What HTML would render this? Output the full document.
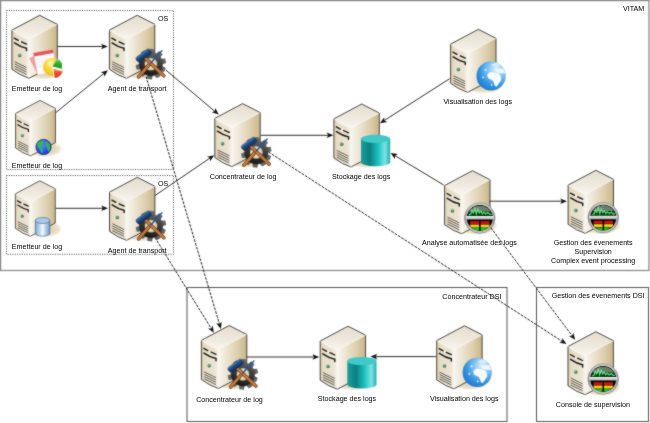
<!DOCTYPE html>
<html><head><meta charset="utf-8"><style>
html,body{margin:0;padding:0;background:#fff;}
svg{display:block;}
text{font-family:"Liberation Sans", sans-serif;fill:#000;}
#wrap{will-change:transform;width:650px;height:423px;}
</style></head><body><div id="wrap">
<svg width="650" height="423" viewBox="0 0 650 423">

<defs>
 <linearGradient id="gTop" x1="0.3" y1="0" x2="0.1" y2="1">
  <stop offset="0" stop-color="#e6dfcf"/><stop offset="0.6" stop-color="#f0ebe0"/><stop offset="1" stop-color="#faf8f3"/>
 </linearGradient>
 <linearGradient id="gFront" x1="0" y1="0" x2="1" y2="0">
  <stop offset="0" stop-color="#d9cba8"/><stop offset="0.18" stop-color="#e6dcc4"/><stop offset="0.75" stop-color="#ebe3d0"/><stop offset="1" stop-color="#f6f2ea"/>
 </linearGradient>
 <linearGradient id="gSide" x1="0" y1="0" x2="1" y2="0">
  <stop offset="0" stop-color="#f8f5ef"/><stop offset="0.3" stop-color="#ece4d2"/><stop offset="0.7" stop-color="#dccdaa"/><stop offset="1" stop-color="#c8b488"/>
 </linearGradient>
 <radialGradient id="gShadow" cx="0.5" cy="0.5" r="0.5">
  <stop offset="0" stop-color="#dccfac"/><stop offset="0.6" stop-color="#e4d9bd"/><stop offset="0.85" stop-color="#eee7d6"/><stop offset="1" stop-color="#ffffff" stop-opacity="0"/>
 </radialGradient>
 <radialGradient id="gLed" cx="0.4" cy="0.4" r="0.6">
  <stop offset="0" stop-color="#7fe0b0"/><stop offset="1" stop-color="#1a6a50"/>
 </radialGradient>
 <g id="server">
  <ellipse cx="5" cy="55" rx="21" ry="9.5" fill="url(#gShadow)"/>
  <path d="M-27.8,14.8 L0,0 L17.6,9 L-10.6,24 Q-19.2,21.6 -27.8,14.8 Z" fill="url(#gTop)"/>
  <path d="M-27.8,14.8 Q-19.2,21.6 -10.6,24 L-10.6,63 Q-19.2,60.5 -27.8,54 Z" fill="url(#gFront)"/>
  <path d="M-10.6,24 L17.6,9 L17.6,48 L-10.6,63 Z" fill="url(#gSide)"/>
  <path d="M-25.4,22.8 L-21.4,25.1 M-18.2,26.5 L-13.2,28.8" stroke="#1e1e1e" stroke-width="1.35" fill="none" stroke-linecap="round"/>
  <path d="M-20.9,25.6 L-19.8,24.9 L-18.7,26 L-19.8,26.6 Z" fill="#fdfcf8"/>
  <path d="M-25.2,27.6 Q-19,31.9 -13.2,33 L-13.2,35.2" stroke="#1e1e1e" stroke-width="1.45" fill="none" stroke-linecap="round"/>
  <circle cx="-20" cy="40.2" r="1.5" fill="url(#gLed)" stroke="#3a5a50" stroke-width="0.4"/>
  <path d="M-25,46.4 L-13.2,52.2 M-25,48.7 L-13.2,54.5 M-25,51 L-13.2,56.8 M-25,53.3 L-13.2,59.1" stroke="#262626" stroke-width="0.7" fill="none"/>
  <path d="M-27.8,14.8 L0,0 L17.6,9 L17.6,48 L-10.6,63 Q-19.2,60.5 -27.8,54 Z" fill="none" stroke="#383838" stroke-width="0.9" stroke-linejoin="round"/>
  <path d="M-27.8,14.8 Q-19.2,21.6 -10.6,24 L17.6,9 M-10.6,24 L-10.6,63" fill="none" stroke="#fbf9f4" stroke-width="0.6"/>
 </g>
</defs>

<defs>
 <linearGradient id="gTeal" x1="0" y1="0" x2="1" y2="0">
  <stop offset="0" stop-color="#1aa0a0"/><stop offset="0.3" stop-color="#0d7f80"/><stop offset="0.6" stop-color="#1ec4c4"/><stop offset="0.82" stop-color="#7fe2e2"/><stop offset="1" stop-color="#22b0b0"/>
 </linearGradient>
 <linearGradient id="gGear" gradientUnits="userSpaceOnUse" x1="6" y1="-15" x2="-4" y2="15">
  <stop offset="0" stop-color="#727272"/><stop offset="0.4" stop-color="#3e3e3e"/><stop offset="1" stop-color="#111111"/>
 </linearGradient>
 <radialGradient id="gHole" cx="0.5" cy="0.5" r="0.5">
  <stop offset="0" stop-color="#efe6cf"/><stop offset="0.75" stop-color="#e2d6b8"/><stop offset="1" stop-color="#b7aa88"/>
 </radialGradient>
 <linearGradient id="gHammer" x1="0" y1="0" x2="0" y2="1">
  <stop offset="0" stop-color="#6a94c8"/><stop offset="0.3" stop-color="#24548e"/><stop offset="1" stop-color="#0e2e58"/>
 </linearGradient>
 <linearGradient id="gRim" x1="0" y1="0" x2="0" y2="1">
  <stop offset="0" stop-color="#d4d4d4"/><stop offset="0.5" stop-color="#9a9a9a"/><stop offset="1" stop-color="#c8c8c8"/>
 </linearGradient>
 <linearGradient id="gBar" x1="0" y1="0" x2="0" y2="1">
  <stop offset="0" stop-color="#f4f4f4"/><stop offset="1" stop-color="#a8a8a8"/>
 </linearGradient>
 <clipPath id="cGauge"><circle r="12.6"/></clipPath>
 <clipPath id="cGlobe"><circle r="14.1"/></clipPath>
 <radialGradient id="gGlobe" cx="0.68" cy="0.28" r="0.8">
  <stop offset="0" stop-color="#e2f3fe"/><stop offset="0.35" stop-color="#86c6f4"/><stop offset="0.7" stop-color="#3594e0"/><stop offset="1" stop-color="#1f76cc"/>
 </radialGradient>
 <radialGradient id="gSmallGlobe" cx="0.4" cy="0.35" r="0.7">
  <stop offset="0" stop-color="#6a84ff"/><stop offset="1" stop-color="#1a2ee0"/>
 </radialGradient>
 <radialGradient id="gPie" cx="0.55" cy="0.3" r="0.75">
  <stop offset="0" stop-color="#fff8c8"/><stop offset="0.45" stop-color="#fada3a"/><stop offset="0.85" stop-color="#f4c21c"/><stop offset="1" stop-color="#e8a018"/>
 </radialGradient>
 <linearGradient id="gPieG" x1="0" y1="0" x2="0" y2="1">
  <stop offset="0" stop-color="#8ae27a"/><stop offset="0.5" stop-color="#2cb02c"/><stop offset="1" stop-color="#1a961a"/>
 </linearGradient>
 <linearGradient id="gPieR" x1="0" y1="0" x2="0" y2="1">
  <stop offset="0" stop-color="#ffa088"/><stop offset="0.45" stop-color="#f44a26"/><stop offset="1" stop-color="#e03214"/>
 </linearGradient>
 <linearGradient id="gBlueCyl" x1="0" y1="0" x2="1" y2="0">
  <stop offset="0" stop-color="#7aa6d6"/><stop offset="0.5" stop-color="#f4f8fd"/><stop offset="1" stop-color="#6a98c8"/>
 </linearGradient>
</defs>

<filter id="fblur" x="0" y="0" width="650" height="423" filterUnits="userSpaceOnUse" color-interpolation-filters="sRGB"><feConvolveMatrix order="3" kernelMatrix="1 2 1 2 16 2 1 2 1" divisor="28" edgeMode="duplicate" preserveAlpha="true"/></filter>
<filter id="ftext" x="0" y="0" width="650" height="423" filterUnits="userSpaceOnUse" color-interpolation-filters="sRGB"><feConvolveMatrix order="3" kernelMatrix="1 2 1 2 36 2 1 2 1" divisor="48" edgeMode="none" preserveAlpha="false"/></filter>
<g filter="url(#fblur)"><rect width="650" height="423" fill="#fff"/>
<rect x="0.6" y="0.6" width="648.3" height="269.9" fill="none" stroke="#8a8a8a" stroke-width="1.25"/>
<rect x="6.5" y="10.5" width="167" height="159" fill="none" stroke="#444" stroke-width="1" stroke-dasharray="1 1.36"/>
<rect x="6.5" y="175.5" width="167" height="78.8" fill="none" stroke="#444" stroke-width="1" stroke-dasharray="1 1.36"/>
<rect x="187" y="287.5" width="320" height="134" fill="none" stroke="#555" stroke-width="1"/>
<rect x="536.5" y="287.5" width="112" height="134" fill="none" stroke="#555" stroke-width="1"/>
<use href="#server" transform="translate(39.7,15.3) scale(1.0)"/>
<use href="#server" transform="translate(137.2,15.3) scale(1.0)"/>
<use href="#server" transform="translate(40.0,100.4) scale(0.88)"/>
<use href="#server" transform="translate(39.8,180.8) scale(0.88)"/>
<use href="#server" transform="translate(137.3,177.3) scale(1.0)"/>
<use href="#server" transform="translate(242.6,103.6) scale(1.0)"/>
<use href="#server" transform="translate(361.7,104.0) scale(1.0)"/>
<use href="#server" transform="translate(478.4,29.3) scale(1.0)"/>
<use href="#server" transform="translate(472.4,170.7) scale(1.0)"/>
<use href="#server" transform="translate(595.9,170.3) scale(1.0)"/>
<use href="#server" transform="translate(229.2,325.5) scale(1.0)"/>
<use href="#server" transform="translate(348.0,326.2) scale(1.0)"/>
<use href="#server" transform="translate(464.5,325.8) scale(1.0)"/>
<use href="#server" transform="translate(595.8,331.7) scale(1.0)"/>
<g transform="translate(39.7,15.3)">
 <path d="M-10.5,43.3 L-4.5,39.8 L2.5,57.5 L-1.7,59.6 Z" fill="#f29e9e"/>
 <path d="M-6.3,37.7 L13.3,34.1 L17.3,56.2 L-2,59.7 Z" fill="#fbfbfb" stroke="#e6b4b4" stroke-width="0.4"/>
 <path d="M-6.3,37.7 L13.3,34.1 L13.9,37.6 L-5.7,41.2 Z" fill="#e25858"/>
 <g stroke="#d8d8d8" stroke-width="0.4"><line x1="-3.5" y1="44.5" x2="8" y2="42.4"/><line x1="-3.1" y1="47" x2="8" y2="45"/><line x1="-2.7" y1="49.5" x2="6" y2="47.9"/><line x1="-2.3" y1="52" x2="5" y2="50.7"/></g>
 <path d="M13,52 L17.37,43.79 A9.3,9.3 0 0 1 13.65,61.28 Z" fill="#fafafa"/>
 <path d="M12.5,51.5 L13.44,60.45 A9,9 0 1 1 17.00,43.71 Z" fill="url(#gPie)"/>
 <path d="M12.9,51.2 L17.60,43.06 A9.4,9.4 0 0 1 22.02,53.47 Z" fill="url(#gPieG)"/>
 <path d="M13.7,53.3 L22.83,56.27 A9.6,9.6 0 0 1 15.04,62.81 Z" fill="url(#gPieR)"/>
</g>
<g transform="translate(43.5,147.0)">
 <circle r="7.7" fill="url(#gSmallGlobe)" stroke="#1a2050" stroke-width="0.6"/>
 <path d="M-6.5,-3 Q-4,-7 0,-6.5 Q1,-5 -1,-3 Q-3,-1 -2,1 Q0,2 -0.5,4 Q-1.5,6 -1,7 Q-3,5 -3.5,2 Q-6,0 -6.5,-3 Z" fill="#22c24a"/>
 <path d="M2,-6 Q5,-5 6.5,-2 Q7,2 5.5,5 Q4,3 3.5,1 Q2,-2 2,-6 Z" fill="#22c24a"/>
</g>
<g>
 <path d="M35.3,220.5 L35.3,233.20000000000002 A7.3,3 0 0 0 49.9,233.20000000000002 L49.9,220.5 Z" fill="url(#gBlueCyl)" stroke="#3a5f88" stroke-width="0.6"/>
 <ellipse cx="42.599999999999994" cy="220.5" rx="7.3" ry="3" fill="#a9c9ea" stroke="#3a5f88" stroke-width="0.6"/>
</g>
<g transform="translate(150.89999999999998,64.1)">
 <g fill="url(#gGear)"><path d="M-2.9,-10.8 L-2.3,-15.2 L2.3,-15.2 L2.9,-10.8 Z" transform="rotate(5)"/><path d="M-2.9,-10.8 L-2.3,-15.2 L2.3,-15.2 L2.9,-10.8 Z" transform="rotate(41)"/><path d="M-2.9,-10.8 L-2.3,-15.2 L2.3,-15.2 L2.9,-10.8 Z" transform="rotate(77)"/><path d="M-2.9,-10.8 L-2.3,-15.2 L2.3,-15.2 L2.9,-10.8 Z" transform="rotate(113)"/><path d="M-2.9,-10.8 L-2.3,-15.2 L2.3,-15.2 L2.9,-10.8 Z" transform="rotate(149)"/><path d="M-2.9,-10.8 L-2.3,-15.2 L2.3,-15.2 L2.9,-10.8 Z" transform="rotate(185)"/><path d="M-2.9,-10.8 L-2.3,-15.2 L2.3,-15.2 L2.9,-10.8 Z" transform="rotate(221)"/><path d="M-2.9,-10.8 L-2.3,-15.2 L2.3,-15.2 L2.9,-10.8 Z" transform="rotate(257)"/><path d="M-2.9,-10.8 L-2.3,-15.2 L2.3,-15.2 L2.9,-10.8 Z" transform="rotate(293)"/><path d="M-2.9,-10.8 L-2.3,-15.2 L2.3,-15.2 L2.9,-10.8 Z" transform="rotate(329)"/><circle r="11.9"/></g>
 <circle r="6.4" fill="url(#gHole)"/>
 <line x1="-0.3" y1="-1.1" x2="-12.3" y2="12.7" stroke="#6e3a14" stroke-width="3.6" stroke-linecap="round"/>
 <line x1="-0.3" y1="-1.1" x2="-12.3" y2="12.7" stroke="#c07a40" stroke-width="2.4" stroke-linecap="round"/>
 <line x1="-5.3" y1="-5.7" x2="12.9" y2="11.7" stroke="#6e3a14" stroke-width="3.6" stroke-linecap="round"/>
 <line x1="-5.3" y1="-5.7" x2="12.9" y2="11.7" stroke="#c07a40" stroke-width="2.4" stroke-linecap="round"/>
 <rect x="-8.3" y="-3" width="16.6" height="6" rx="1.8" fill="url(#gHammer)" stroke="#0c2a50" stroke-width="0.4" transform="translate(-7.3,-8.6) rotate(-37)"/>
 <line x1="11" y1="-13.3" x2="-0.3" y2="-1.1" stroke="#1f5a9a" stroke-width="1.4" stroke-linecap="round"/>
</g>
<g transform="translate(151.0,226.10000000000002)">
 <g fill="url(#gGear)"><path d="M-2.9,-10.8 L-2.3,-15.2 L2.3,-15.2 L2.9,-10.8 Z" transform="rotate(5)"/><path d="M-2.9,-10.8 L-2.3,-15.2 L2.3,-15.2 L2.9,-10.8 Z" transform="rotate(41)"/><path d="M-2.9,-10.8 L-2.3,-15.2 L2.3,-15.2 L2.9,-10.8 Z" transform="rotate(77)"/><path d="M-2.9,-10.8 L-2.3,-15.2 L2.3,-15.2 L2.9,-10.8 Z" transform="rotate(113)"/><path d="M-2.9,-10.8 L-2.3,-15.2 L2.3,-15.2 L2.9,-10.8 Z" transform="rotate(149)"/><path d="M-2.9,-10.8 L-2.3,-15.2 L2.3,-15.2 L2.9,-10.8 Z" transform="rotate(185)"/><path d="M-2.9,-10.8 L-2.3,-15.2 L2.3,-15.2 L2.9,-10.8 Z" transform="rotate(221)"/><path d="M-2.9,-10.8 L-2.3,-15.2 L2.3,-15.2 L2.9,-10.8 Z" transform="rotate(257)"/><path d="M-2.9,-10.8 L-2.3,-15.2 L2.3,-15.2 L2.9,-10.8 Z" transform="rotate(293)"/><path d="M-2.9,-10.8 L-2.3,-15.2 L2.3,-15.2 L2.9,-10.8 Z" transform="rotate(329)"/><circle r="11.9"/></g>
 <circle r="6.4" fill="url(#gHole)"/>
 <line x1="-0.3" y1="-1.1" x2="-12.3" y2="12.7" stroke="#6e3a14" stroke-width="3.6" stroke-linecap="round"/>
 <line x1="-0.3" y1="-1.1" x2="-12.3" y2="12.7" stroke="#c07a40" stroke-width="2.4" stroke-linecap="round"/>
 <line x1="-5.3" y1="-5.7" x2="12.9" y2="11.7" stroke="#6e3a14" stroke-width="3.6" stroke-linecap="round"/>
 <line x1="-5.3" y1="-5.7" x2="12.9" y2="11.7" stroke="#c07a40" stroke-width="2.4" stroke-linecap="round"/>
 <rect x="-8.3" y="-3" width="16.6" height="6" rx="1.8" fill="url(#gHammer)" stroke="#0c2a50" stroke-width="0.4" transform="translate(-7.3,-8.6) rotate(-37)"/>
 <line x1="11" y1="-13.3" x2="-0.3" y2="-1.1" stroke="#1f5a9a" stroke-width="1.4" stroke-linecap="round"/>
</g>
<g transform="translate(256.3,152.39999999999998)">
 <g fill="url(#gGear)"><path d="M-2.9,-10.8 L-2.3,-15.2 L2.3,-15.2 L2.9,-10.8 Z" transform="rotate(5)"/><path d="M-2.9,-10.8 L-2.3,-15.2 L2.3,-15.2 L2.9,-10.8 Z" transform="rotate(41)"/><path d="M-2.9,-10.8 L-2.3,-15.2 L2.3,-15.2 L2.9,-10.8 Z" transform="rotate(77)"/><path d="M-2.9,-10.8 L-2.3,-15.2 L2.3,-15.2 L2.9,-10.8 Z" transform="rotate(113)"/><path d="M-2.9,-10.8 L-2.3,-15.2 L2.3,-15.2 L2.9,-10.8 Z" transform="rotate(149)"/><path d="M-2.9,-10.8 L-2.3,-15.2 L2.3,-15.2 L2.9,-10.8 Z" transform="rotate(185)"/><path d="M-2.9,-10.8 L-2.3,-15.2 L2.3,-15.2 L2.9,-10.8 Z" transform="rotate(221)"/><path d="M-2.9,-10.8 L-2.3,-15.2 L2.3,-15.2 L2.9,-10.8 Z" transform="rotate(257)"/><path d="M-2.9,-10.8 L-2.3,-15.2 L2.3,-15.2 L2.9,-10.8 Z" transform="rotate(293)"/><path d="M-2.9,-10.8 L-2.3,-15.2 L2.3,-15.2 L2.9,-10.8 Z" transform="rotate(329)"/><circle r="11.9"/></g>
 <circle r="6.4" fill="url(#gHole)"/>
 <line x1="-0.3" y1="-1.1" x2="-12.3" y2="12.7" stroke="#6e3a14" stroke-width="3.6" stroke-linecap="round"/>
 <line x1="-0.3" y1="-1.1" x2="-12.3" y2="12.7" stroke="#c07a40" stroke-width="2.4" stroke-linecap="round"/>
 <line x1="-5.3" y1="-5.7" x2="12.9" y2="11.7" stroke="#6e3a14" stroke-width="3.6" stroke-linecap="round"/>
 <line x1="-5.3" y1="-5.7" x2="12.9" y2="11.7" stroke="#c07a40" stroke-width="2.4" stroke-linecap="round"/>
 <rect x="-8.3" y="-3" width="16.6" height="6" rx="1.8" fill="url(#gHammer)" stroke="#0c2a50" stroke-width="0.4" transform="translate(-7.3,-8.6) rotate(-37)"/>
 <line x1="11" y1="-13.3" x2="-0.3" y2="-1.1" stroke="#1f5a9a" stroke-width="1.4" stroke-linecap="round"/>
</g>
<g transform="translate(242.89999999999998,374.3)">
 <g fill="url(#gGear)"><path d="M-2.9,-10.8 L-2.3,-15.2 L2.3,-15.2 L2.9,-10.8 Z" transform="rotate(5)"/><path d="M-2.9,-10.8 L-2.3,-15.2 L2.3,-15.2 L2.9,-10.8 Z" transform="rotate(41)"/><path d="M-2.9,-10.8 L-2.3,-15.2 L2.3,-15.2 L2.9,-10.8 Z" transform="rotate(77)"/><path d="M-2.9,-10.8 L-2.3,-15.2 L2.3,-15.2 L2.9,-10.8 Z" transform="rotate(113)"/><path d="M-2.9,-10.8 L-2.3,-15.2 L2.3,-15.2 L2.9,-10.8 Z" transform="rotate(149)"/><path d="M-2.9,-10.8 L-2.3,-15.2 L2.3,-15.2 L2.9,-10.8 Z" transform="rotate(185)"/><path d="M-2.9,-10.8 L-2.3,-15.2 L2.3,-15.2 L2.9,-10.8 Z" transform="rotate(221)"/><path d="M-2.9,-10.8 L-2.3,-15.2 L2.3,-15.2 L2.9,-10.8 Z" transform="rotate(257)"/><path d="M-2.9,-10.8 L-2.3,-15.2 L2.3,-15.2 L2.9,-10.8 Z" transform="rotate(293)"/><path d="M-2.9,-10.8 L-2.3,-15.2 L2.3,-15.2 L2.9,-10.8 Z" transform="rotate(329)"/><circle r="11.9"/></g>
 <circle r="6.4" fill="url(#gHole)"/>
 <line x1="-0.3" y1="-1.1" x2="-12.3" y2="12.7" stroke="#6e3a14" stroke-width="3.6" stroke-linecap="round"/>
 <line x1="-0.3" y1="-1.1" x2="-12.3" y2="12.7" stroke="#c07a40" stroke-width="2.4" stroke-linecap="round"/>
 <line x1="-5.3" y1="-5.7" x2="12.9" y2="11.7" stroke="#6e3a14" stroke-width="3.6" stroke-linecap="round"/>
 <line x1="-5.3" y1="-5.7" x2="12.9" y2="11.7" stroke="#c07a40" stroke-width="2.4" stroke-linecap="round"/>
 <rect x="-8.3" y="-3" width="16.6" height="6" rx="1.8" fill="url(#gHammer)" stroke="#0c2a50" stroke-width="0.4" transform="translate(-7.3,-8.6) rotate(-37)"/>
 <line x1="11" y1="-13.3" x2="-0.3" y2="-1.1" stroke="#1f5a9a" stroke-width="1.4" stroke-linecap="round"/>
</g>
<g>
 <path d="M361.0,138.8 L361.0,162.2 A14.6,4.1 0 0 0 390.2,162.2 L390.2,138.8 Z" fill="url(#gTeal)"/>
 <ellipse cx="375.6" cy="138.8" rx="14.6" ry="4.1" fill="#41c8c8"/>
</g>
<g>
 <path d="M347.3,361.0 L347.3,384.4 A14.6,4.1 0 0 0 376.5,384.4 L376.5,361.0 Z" fill="url(#gTeal)"/>
 <ellipse cx="361.90000000000003" cy="361.0" rx="14.6" ry="4.1" fill="#41c8c8"/>
</g>
<g transform="translate(491.09999999999997,75.9)">
 <circle r="14.6" fill="url(#gGlobe)"/>
 <g clip-path="url(#cGlobe)"><g transform="translate(1.5,0.5) scale(1.18)">
 <path d="M-4.5,-1.5 Q-3,-4.2 0,-3.6 Q3,-3.2 5.5,-2 Q7.5,0 7.2,3 Q5.5,5.5 3.5,8.5 Q2,9 1.2,6 Q0.5,3 -2,2.5 Q-4.5,1.5 -4.5,-1.5 Z" fill="#f7fafd"/>
 <path d="M1.5,-5 Q5,-7.5 9.5,-6.5 Q12.8,-4.5 13.4,-1.5 Q10,-3 7,-2.6 Q3.5,-2.8 1.5,-5 Z" fill="#eef6fd"/>
 <path d="M-1,-10 Q3,-12.5 8,-11 Q10,-9.5 9,-8.5 Q5,-9 2,-8.2 Q0,-8.5 -1,-10 Z" fill="#d8ecfa"/>
 </g></g>
 <circle cx="-5.5" cy="-6" r="0.9" fill="#ffffff"/>
 <circle cx="-8" cy="1.5" r="0.8" fill="#ffffff"/>
 <circle cx="0.5" cy="9" r="0.8" fill="#ffffff"/>
</g>
<g transform="translate(477.2,372.40000000000003)">
 <circle r="14.6" fill="url(#gGlobe)"/>
 <g clip-path="url(#cGlobe)"><g transform="translate(1.5,0.5) scale(1.18)">
 <path d="M-4.5,-1.5 Q-3,-4.2 0,-3.6 Q3,-3.2 5.5,-2 Q7.5,0 7.2,3 Q5.5,5.5 3.5,8.5 Q2,9 1.2,6 Q0.5,3 -2,2.5 Q-4.5,1.5 -4.5,-1.5 Z" fill="#f7fafd"/>
 <path d="M1.5,-5 Q5,-7.5 9.5,-6.5 Q12.8,-4.5 13.4,-1.5 Q10,-3 7,-2.6 Q3.5,-2.8 1.5,-5 Z" fill="#eef6fd"/>
 <path d="M-1,-10 Q3,-12.5 8,-11 Q10,-9.5 9,-8.5 Q5,-9 2,-8.2 Q0,-8.5 -1,-10 Z" fill="#d8ecfa"/>
 </g></g>
 <circle cx="-5.5" cy="-6" r="0.9" fill="#ffffff"/>
 <circle cx="-8" cy="1.5" r="0.8" fill="#ffffff"/>
 <circle cx="0.5" cy="9" r="0.8" fill="#ffffff"/>
</g>
<g transform="translate(479.79999999999995,218.0)">
 <circle r="15.3" fill="url(#gRim)" stroke="#666" stroke-width="0.5"/>
 <circle r="12.9" fill="#050505"/>
 <g clip-path="url(#cGauge)">
  <rect x="-13" y="-13" width="26" height="11.5" fill="#020602"/>
  <g stroke="#1c7a2a" stroke-width="0.5"><line x1="-13" y1="-11.0" x2="13" y2="-11.0"/><line x1="-13" y1="-9.0" x2="13" y2="-9.0"/><line x1="-13" y1="-7.0" x2="13" y2="-7.0"/><line x1="-13" y1="-5.0" x2="13" y2="-5.0"/><line x1="-13" y1="-3.0" x2="13" y2="-3.0"/><line x1="-10.0" y1="-13" x2="-10.0" y2="-1.5"/><line x1="-8.0" y1="-13" x2="-8.0" y2="-1.5"/><line x1="-6.0" y1="-13" x2="-6.0" y2="-1.5"/><line x1="-4.0" y1="-13" x2="-4.0" y2="-1.5"/><line x1="-2.0" y1="-13" x2="-2.0" y2="-1.5"/><line x1="0.0" y1="-13" x2="0.0" y2="-1.5"/><line x1="2.0" y1="-13" x2="2.0" y2="-1.5"/><line x1="4.0" y1="-13" x2="4.0" y2="-1.5"/><line x1="6.0" y1="-13" x2="6.0" y2="-1.5"/><line x1="8.0" y1="-13" x2="8.0" y2="-1.5"/><line x1="10.0" y1="-13" x2="10.0" y2="-1.5"/></g>
  <path d="M-11,-3 L-9,-4 L-8,-8 L-6.5,-5 L-5,-10 L-3.5,-4 L-2,-9 L-0.5,-5 L1,-7 L2.5,-4 L4,-6 L6,-4 L8,-5.5 L10,-3.5 L12,-4" stroke="#55f07a" stroke-width="1.1" fill="none"/>
  <path d="M-10.8,-6.5 A12.6,12.6 0 0 1 10.8,-6.5 Z" fill="#c4ccc4" opacity="0.5"/>
  <rect x="-9.6" y="3.2" width="8.9" height="3" fill="#d41010"/>
  <rect x="0.8" y="3.2" width="8.9" height="3" fill="#d41010"/>
  <rect x="-9.6" y="6.6" width="8.9" height="3" fill="#e8d414"/>
  <rect x="0.8" y="6.6" width="8.9" height="3" fill="#e8d414"/>
  <rect x="-9.6" y="10" width="8.9" height="4" fill="#1ec21e"/>
  <rect x="0.8" y="10" width="8.9" height="4" fill="#1ec21e"/>
 </g>
 <rect x="-14.2" y="-1.9" width="28.4" height="3.5" rx="1" fill="url(#gBar)"/>
</g>
<g transform="translate(603.3,217.60000000000002)">
 <circle r="15.3" fill="url(#gRim)" stroke="#666" stroke-width="0.5"/>
 <circle r="12.9" fill="#050505"/>
 <g clip-path="url(#cGauge)">
  <rect x="-13" y="-13" width="26" height="11.5" fill="#020602"/>
  <g stroke="#1c7a2a" stroke-width="0.5"><line x1="-13" y1="-11.0" x2="13" y2="-11.0"/><line x1="-13" y1="-9.0" x2="13" y2="-9.0"/><line x1="-13" y1="-7.0" x2="13" y2="-7.0"/><line x1="-13" y1="-5.0" x2="13" y2="-5.0"/><line x1="-13" y1="-3.0" x2="13" y2="-3.0"/><line x1="-10.0" y1="-13" x2="-10.0" y2="-1.5"/><line x1="-8.0" y1="-13" x2="-8.0" y2="-1.5"/><line x1="-6.0" y1="-13" x2="-6.0" y2="-1.5"/><line x1="-4.0" y1="-13" x2="-4.0" y2="-1.5"/><line x1="-2.0" y1="-13" x2="-2.0" y2="-1.5"/><line x1="0.0" y1="-13" x2="0.0" y2="-1.5"/><line x1="2.0" y1="-13" x2="2.0" y2="-1.5"/><line x1="4.0" y1="-13" x2="4.0" y2="-1.5"/><line x1="6.0" y1="-13" x2="6.0" y2="-1.5"/><line x1="8.0" y1="-13" x2="8.0" y2="-1.5"/><line x1="10.0" y1="-13" x2="10.0" y2="-1.5"/></g>
  <path d="M-11,-3 L-9,-4 L-8,-8 L-6.5,-5 L-5,-10 L-3.5,-4 L-2,-9 L-0.5,-5 L1,-7 L2.5,-4 L4,-6 L6,-4 L8,-5.5 L10,-3.5 L12,-4" stroke="#55f07a" stroke-width="1.1" fill="none"/>
  <path d="M-10.8,-6.5 A12.6,12.6 0 0 1 10.8,-6.5 Z" fill="#c4ccc4" opacity="0.5"/>
  <rect x="-9.6" y="3.2" width="8.9" height="3" fill="#d41010"/>
  <rect x="0.8" y="3.2" width="8.9" height="3" fill="#d41010"/>
  <rect x="-9.6" y="6.6" width="8.9" height="3" fill="#e8d414"/>
  <rect x="0.8" y="6.6" width="8.9" height="3" fill="#e8d414"/>
  <rect x="-9.6" y="10" width="8.9" height="4" fill="#1ec21e"/>
  <rect x="0.8" y="10" width="8.9" height="4" fill="#1ec21e"/>
 </g>
 <rect x="-14.2" y="-1.9" width="28.4" height="3.5" rx="1" fill="url(#gBar)"/>
</g>
<g transform="translate(603.1999999999999,379.0)">
 <circle r="15.3" fill="url(#gRim)" stroke="#666" stroke-width="0.5"/>
 <circle r="12.9" fill="#050505"/>
 <g clip-path="url(#cGauge)">
  <rect x="-13" y="-13" width="26" height="11.5" fill="#020602"/>
  <g stroke="#1c7a2a" stroke-width="0.5"><line x1="-13" y1="-11.0" x2="13" y2="-11.0"/><line x1="-13" y1="-9.0" x2="13" y2="-9.0"/><line x1="-13" y1="-7.0" x2="13" y2="-7.0"/><line x1="-13" y1="-5.0" x2="13" y2="-5.0"/><line x1="-13" y1="-3.0" x2="13" y2="-3.0"/><line x1="-10.0" y1="-13" x2="-10.0" y2="-1.5"/><line x1="-8.0" y1="-13" x2="-8.0" y2="-1.5"/><line x1="-6.0" y1="-13" x2="-6.0" y2="-1.5"/><line x1="-4.0" y1="-13" x2="-4.0" y2="-1.5"/><line x1="-2.0" y1="-13" x2="-2.0" y2="-1.5"/><line x1="0.0" y1="-13" x2="0.0" y2="-1.5"/><line x1="2.0" y1="-13" x2="2.0" y2="-1.5"/><line x1="4.0" y1="-13" x2="4.0" y2="-1.5"/><line x1="6.0" y1="-13" x2="6.0" y2="-1.5"/><line x1="8.0" y1="-13" x2="8.0" y2="-1.5"/><line x1="10.0" y1="-13" x2="10.0" y2="-1.5"/></g>
  <path d="M-11,-3 L-9,-4 L-8,-8 L-6.5,-5 L-5,-10 L-3.5,-4 L-2,-9 L-0.5,-5 L1,-7 L2.5,-4 L4,-6 L6,-4 L8,-5.5 L10,-3.5 L12,-4" stroke="#55f07a" stroke-width="1.1" fill="none"/>
  <path d="M-10.8,-6.5 A12.6,12.6 0 0 1 10.8,-6.5 Z" fill="#c4ccc4" opacity="0.5"/>
  <rect x="-9.6" y="3.2" width="8.9" height="3" fill="#d41010"/>
  <rect x="0.8" y="3.2" width="8.9" height="3" fill="#d41010"/>
  <rect x="-9.6" y="6.6" width="8.9" height="3" fill="#e8d414"/>
  <rect x="0.8" y="6.6" width="8.9" height="3" fill="#e8d414"/>
  <rect x="-9.6" y="10" width="8.9" height="4" fill="#1ec21e"/>
  <rect x="0.8" y="10" width="8.9" height="4" fill="#1ec21e"/>
 </g>
 <rect x="-14.2" y="-1.9" width="28.4" height="3.5" rx="1" fill="url(#gBar)"/>
</g>
<line x1="57.40" y1="46.50" x2="102.80" y2="46.50" stroke="#2e2e2e" stroke-width="1.0"/><polygon points="107.80,46.50 101.00,49.30 102.70,46.50 101.00,43.70" fill="#111"/>
<line x1="55.90" y1="112.50" x2="104.02" y2="73.36" stroke="#2e2e2e" stroke-width="1.0"/><polygon points="107.90,70.20 104.39,76.66 103.94,73.42 100.86,72.32" fill="#111"/>
<line x1="165.70" y1="69.90" x2="214.88" y2="111.38" stroke="#2e2e2e" stroke-width="1.0"/><polygon points="218.70,114.60 211.70,112.36 214.80,111.31 215.31,108.08" fill="#111"/>
<line x1="55.80" y1="208.30" x2="103.00" y2="208.30" stroke="#2e2e2e" stroke-width="1.0"/><polygon points="108.00,208.30 101.20,211.10 102.90,208.30 101.20,205.50" fill="#111"/>
<line x1="155.00" y1="195.50" x2="210.07" y2="158.01" stroke="#2e2e2e" stroke-width="1.0"/><polygon points="214.20,155.20 210.15,161.34 209.98,158.07 207.00,156.71" fill="#111"/>
<line x1="260.50" y1="135.30" x2="328.40" y2="135.30" stroke="#2e2e2e" stroke-width="1.0"/><polygon points="333.40,135.30 326.60,138.10 328.30,135.30 326.60,132.50" fill="#111"/>
<line x1="449.50" y1="78.80" x2="384.21" y2="120.51" stroke="#2e2e2e" stroke-width="1.0"/><polygon points="380.00,123.20 384.22,117.18 384.30,120.45 387.24,121.90" fill="#111"/>
<line x1="443.70" y1="185.00" x2="394.88" y2="155.58" stroke="#2e2e2e" stroke-width="1.0"/><polygon points="390.60,153.00 397.87,154.11 394.97,155.63 394.98,158.91" fill="#111"/>
<line x1="489.40" y1="201.20" x2="562.00" y2="201.20" stroke="#2e2e2e" stroke-width="1.0"/><polygon points="567.00,201.20 560.20,204.00 561.90,201.20 560.20,198.40" fill="#111"/>
<line x1="246.60" y1="357.00" x2="314.20" y2="357.00" stroke="#2e2e2e" stroke-width="1.0"/><polygon points="319.20,357.00 312.40,359.80 314.10,357.00 312.40,354.20" fill="#111"/>
<line x1="436.10" y1="356.60" x2="375.50" y2="356.60" stroke="#2e2e2e" stroke-width="1.0"/><polygon points="370.50,356.60 377.30,353.80 375.60,356.60 377.30,359.40" fill="#111"/>
<line x1="146.00" y1="76.40" x2="219.48" y2="324.21" stroke="#1c1c1c" stroke-width="1.0" stroke-dasharray="2.8 1.15"/><polygon points="220.90,329.00 216.28,323.28 219.45,324.11 221.65,321.68" fill="#111"/>
<line x1="154.90" y1="237.40" x2="211.27" y2="328.55" stroke="#1c1c1c" stroke-width="1.0" stroke-dasharray="2.8 1.15"/><polygon points="213.90,332.80 207.94,328.49 211.22,328.46 212.70,325.54" fill="#111"/>
<line x1="268.50" y1="152.00" x2="562.30" y2="341.39" stroke="#1c1c1c" stroke-width="1.0" stroke-dasharray="2.8 1.15"/><polygon points="566.50,344.10 559.27,342.77 562.21,341.34 562.30,338.06" fill="#111"/>
<line x1="490.80" y1="227.70" x2="572.19" y2="335.81" stroke="#1c1c1c" stroke-width="1.0" stroke-dasharray="2.8 1.15"/><polygon points="575.20,339.80 568.87,336.05 572.13,335.73 573.35,332.68" fill="#111"/></g>
<g><text x="37" y="90.9" text-anchor="middle" font-size="7.15">Emetteur de log</text>
<text x="137.2" y="91" text-anchor="middle" font-size="7.15">Agent de transport</text>
<text x="37" y="167.7" text-anchor="middle" font-size="7.15">Emetteur de log</text>
<text x="37" y="249.2" text-anchor="middle" font-size="7.15">Emetteur de log</text>
<text x="137.2" y="252.5" text-anchor="middle" font-size="7.15">Agent de transport</text>
<text x="243.1" y="179.4" text-anchor="middle" font-size="7.15">Concentrateur de log</text>
<text x="361.2" y="179.3" text-anchor="middle" font-size="7.15">Stockage des logs</text>
<text x="477.7" y="104.1" text-anchor="middle" font-size="7.15">Visualisation des logs</text>
<text x="469.4" y="244.7" text-anchor="middle" font-size="7.15">Analyse automatisée des logs</text>
<text x="593.2" y="245" text-anchor="middle" font-size="7.15">Gestion des évenements</text>
<text x="593.2" y="254" text-anchor="middle" font-size="7.15">Supervision</text>
<text x="593.2" y="262.7" text-anchor="middle" font-size="7.15">Complex event processing</text>
<text x="229.5" y="401.5" text-anchor="middle" font-size="7.15">Concentrateur de log</text>
<text x="347" y="401.3" text-anchor="middle" font-size="7.15">Stockage des logs</text>
<text x="464.2" y="401.3" text-anchor="middle" font-size="7.15">Visualisation des logs</text>
<text x="592.9" y="406.5" text-anchor="middle" font-size="7.15">Console de supervision</text>
<text x="644.3" y="11.3" text-anchor="end" font-size="7.15">VITAM</text>
<text x="168.3" y="20.9" text-anchor="end" font-size="7.15">OS</text>
<text x="168.3" y="186" text-anchor="end" font-size="7.15">OS</text>
<text x="501.5" y="298.5" text-anchor="end" font-size="7.15">Concentrateur DSI</text>
<text x="644.6" y="298.4" text-anchor="end" font-size="7.15">Gestion des évenements DSI</text></g>
</svg></div>
</body></html>
